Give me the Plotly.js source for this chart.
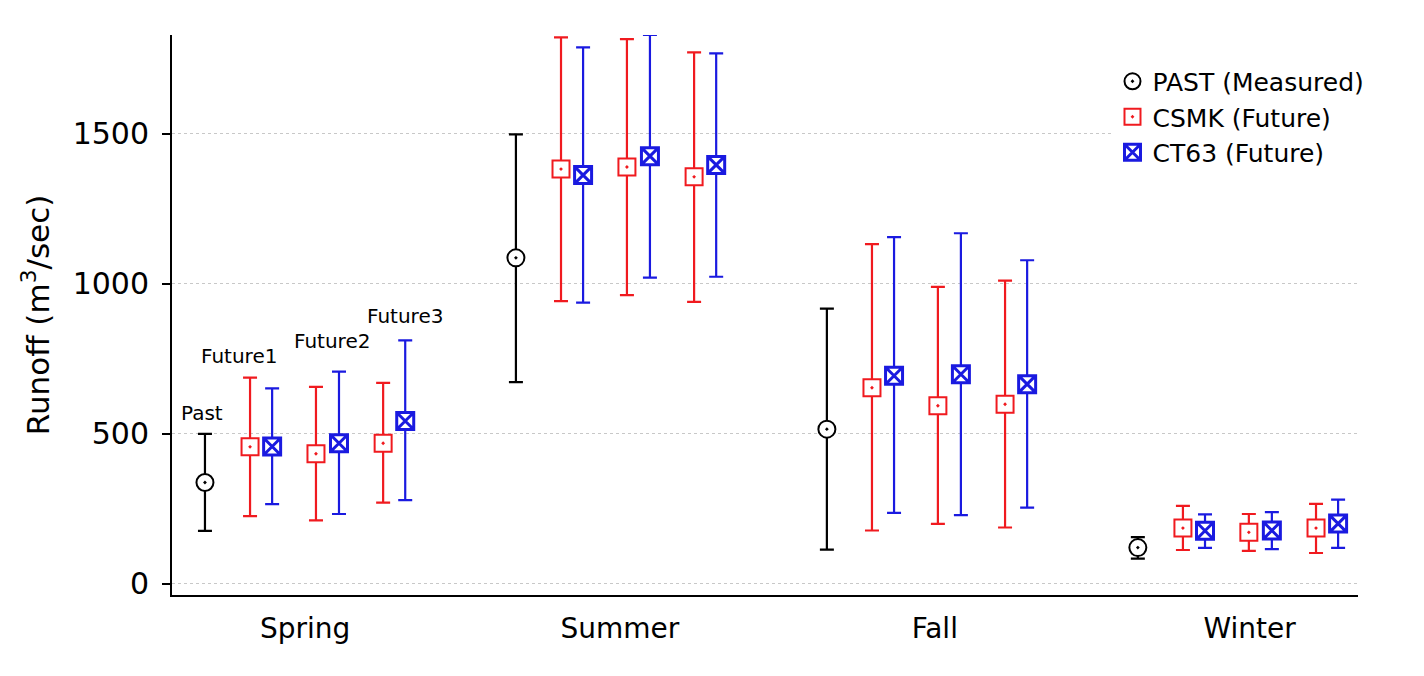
<!DOCTYPE html>
<html>
<head>
<meta charset="utf-8">
<script src="https://cdn.plot.ly/plotly-3.0.1.min.js"></script>
<style>
  html, body { margin: 0; padding: 0; background: #fff; }
  #plot { width: 1424px; height: 676px; }
</style>
</head>
<body>
<div id="plot"></div>
<script>
// seasons on the x axis
const seasons = ['Spring', 'Summer', 'Fall', 'Winter'];

// PAST (Measured): mean and range per season
const pastMean = [338, 1087, 516, 121];
const pastHigh = [500, 1499, 918, 156];
const pastLow  = [177, 673, 114, 84];

// CSMK (Future): per season, Future1..Future3
const csmkMean = [[457, 434, 469], [1383, 1390, 1357], [654, 594, 599], [186, 172, 186]];
const csmkHigh = [[688, 657, 670], [1822, 1816, 1772], [1133, 990, 1011], [260, 233, 267]];
const csmkLow  = [[226, 212, 271], [943, 963, 940], [178, 200, 188], [113, 110, 103]];

// CT63 (Future): per season, Future1..Future3
const ctMean = [[458, 469, 543], [1363, 1426, 1397], [694, 699, 666], [177, 178, 201]];
const ctHigh = [[652, 708, 812], [1789, 1830, 1769], [1156, 1169, 1079], [232, 239, 281]];
const ctLow  = [[266, 233, 279], [938, 1021, 1024], [237, 229, 254], [120, 116, 120]];

// labels over the spring group
const groupLabels = ['Past', 'Future1', 'Future2', 'Future3'];

// horizontal place of each mark inside a season group
const pastOffset = -0.322;
const csmkOffset = [-0.177, 0.035, 0.251];
const ctOffset   = [-0.106, 0.109, 0.322];

const RED = '#f01a1f';
const BLUE = '#1a1ae0';

function buildSeries(mean, high, low, offsets) {
  const x = [], y = [], up = [], down = [];
  mean.forEach((row, s) => {
    row.forEach((m, k) => {
      x.push(s + offsets[k]);
      y.push(m);
      up.push(high[s][k] - m);
      down.push(m - low[s][k]);
    });
  });
  return { x, y, up, down };
}

const past = {
  x: pastMean.map((_, s) => s + pastOffset),
  y: pastMean,
  up: pastMean.map((m, s) => pastHigh[s] - m),
  down: pastMean.map((m, s) => m - pastLow[s])
};
const csmk = buildSeries(csmkMean, csmkHigh, csmkLow, csmkOffset);
const ct = buildSeries(ctMean, ctHigh, ctLow, ctOffset);

function trace(d, name, color, symbol, lw) {
  return {
    x: d.x, y: d.y, name: name,
    type: 'scatter', mode: 'markers',
    marker: { symbol: symbol, size: 17, color: '#fff', line: { color: color, width: lw } },
    error_y: {
      type: 'data', symmetric: false, array: d.up, arrayminus: d.down,
      color: color, thickness: 2.2, width: 7
    }
  };
}

const traces = [
  trace(past, 'PAST (Measured)', '#000', 'circle-dot', 2),
  trace(csmk, 'CSMK (Future)', RED, 'square-dot', 2),
  trace(ct, 'CT63 (Future)', BLUE, 'square-x', 3)
];

// label anchors: Past over its bar, FutureN over each pair
const labelX = [-0.333, -0.212, 0.087, 0.322];
const labelY = [570, 760, 810, 893];
const annotations = groupLabels.map((t, i) => ({
  x: labelX[i], y: labelY[i], xref: 'x', yref: 'y',
  text: t, showarrow: false, xanchor: 'center', yanchor: 'middle',
  font: { family: 'DejaVu Sans', size: 20, color: '#000' }
}));

const layout = {
  width: 1424, height: 676,
  margin: { l: 172, r: 66, t: 35, b: 81 },
  paper_bgcolor: '#fff',
  plot_bgcolor: '#fff',
  font: { family: 'DejaVu Sans', color: '#000' },
  showlegend: true,
  legend: {
    x: 0.793, y: 0.958, xanchor: 'left', yanchor: 'top',
    bgcolor: '#fff', borderwidth: 0,
    font: { family: 'DejaVu Sans', size: 25, color: '#000' }
  },
  xaxis: {
    range: [-0.428, 3.386],
    tickmode: 'array',
    tickvals: seasons.map((_, i) => i * 1.0125),
    ticktext: seasons,
    ticks: '',
    showgrid: false, zeroline: false,
    showline: true, linecolor: '#000', linewidth: 2,
    tickfont: { family: 'DejaVu Sans', size: 28 },
    ticklabelstandoff: 7
  },
  yaxis: {
    range: [-37, 1830],
    tickvals: [0, 500, 1000, 1500],
    ticks: 'outside', ticklen: 8, tickwidth: 2, tickcolor: '#000',
    showgrid: true, gridcolor: '#c8c8c8', griddash: 'dot', gridwidth: 1,
    zeroline: false,
    showline: true, linecolor: '#000', linewidth: 2,
    tickfont: { family: 'DejaVu Sans', size: 30 },
    ticklabelstandoff: 7,
    title: { text: 'Runoff (m<sup>3</sup>/sec)', font: { family: 'DejaVu Sans', size: 31 }, standoff: 14 }
  },
  annotations: annotations
};

Plotly.newPlot('plot', traces, layout, { displayModeBar: false, staticPlot: true });
</script>
</body>
</html>
